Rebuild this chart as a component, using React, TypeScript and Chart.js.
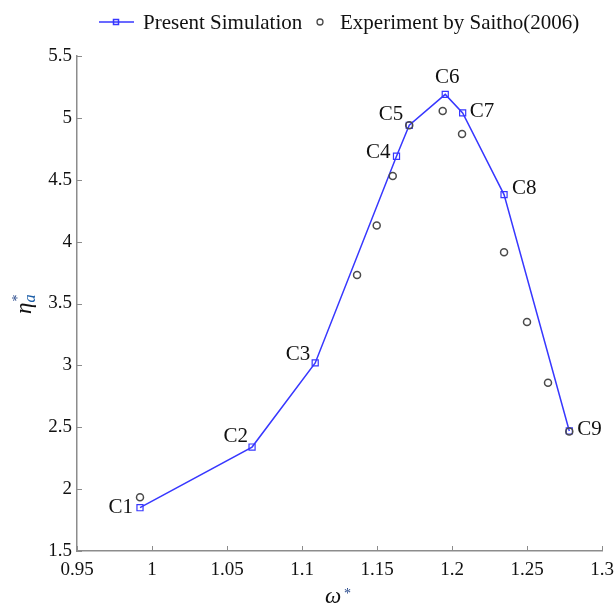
import React, { useEffect, useRef } from "react";
import { Chart, registerables } from "chart.js";

Chart.register(...registerables);

const pointNames = ["C1", "C2", "C3", "C4", "C5", "C6", "C7", "C8", "C9"];
const simOmega = [0.992, 1.0667, 1.1088, 1.163, 1.1715, 1.1955, 1.2071, 1.2347, 1.2782];
const simEta = [1.85, 2.34, 3.02, 4.69, 4.94, 5.19, 5.04, 4.38, 2.47];
const expOmega = [0.992, 1.1367, 1.1498, 1.1605, 1.1715, 1.1938, 1.2067, 1.2347, 1.25, 1.264, 1.2782];
const expEta = [1.935, 3.73, 4.13, 4.53, 4.94, 5.055, 4.87, 3.915, 3.35, 2.86, 2.465];
const xTicks = [0.95, 1, 1.05, 1.1, 1.15, 1.2, 1.25, 1.3];
const yTicks = [1.5, 2, 2.5, 3, 3.5, 4, 4.5, 5, 5.5];
const seriesNames = ["Present Simulation", "Experiment by Saitho(2006)"];

// label placement style: [align, dx, dy]
const labelPlacement: [CanvasTextAlign, number, number][] = [
  ["right", -7, 0],
  ["right", -4, -11],
  ["right", -5, -8],
  ["right", -6, -4],
  ["right", -6, -11],
  ["center", 2, -17],
  ["left", 7, -1],
  ["left", 8, -6],
  ["left", 8, -1],
];

const SERIF = "'Liberation Serif', 'Times New Roman', serif";
const BLUE = "rgb(55,55,255)";
const GREY_MARK = "#4a4a4a";
const AXIS = "#8c8c8c";

const decorPlugin = {
  id: "decor",
  afterDraw(chart: any) {
    const ctx: CanvasRenderingContext2D = chart.ctx;
    const xs = chart.scales.x;
    const ys = chart.scales.y;
    const area = chart.chartArea;
    ctx.save();
    // inward ticks
    ctx.strokeStyle = AXIS;
    ctx.lineWidth = 1;
    ctx.beginPath();
    xTicks.forEach((v) => {
      const px = Math.round(xs.getPixelForValue(v)) + 0.5;
      ctx.moveTo(px, area.bottom);
      ctx.lineTo(px, area.bottom - 5);
    });
    yTicks.forEach((v) => {
      const py = Math.round(ys.getPixelForValue(v)) + 0.5;
      ctx.moveTo(area.left, py);
      ctx.lineTo(area.left + 5, py);
    });
    ctx.stroke();

    // point labels
    const meta = chart.getDatasetMeta(0);
    ctx.fillStyle = "#111";
    ctx.font = `21px ${SERIF}`;
    ctx.textBaseline = "middle";
    meta.data.forEach((pt: any, i: number) => {
      const [align, dx, dy] = labelPlacement[i];
      ctx.textAlign = align;
      ctx.fillText(pointNames[i], pt.x + dx, pt.y + dy);
    });

    // legend
    const ly = 22;
    ctx.strokeStyle = BLUE;
    ctx.lineWidth = 1.5;
    ctx.beginPath();
    ctx.moveTo(99, ly);
    ctx.lineTo(134, ly);
    ctx.stroke();
    ctx.strokeRect(113.5, ly - 2.5, 5, 5);
    ctx.fillStyle = "#111";
    ctx.font = `21px ${SERIF}`;
    ctx.textAlign = "left";
    ctx.textBaseline = "middle";
    ctx.fillText(chart.data.datasets[0].label, 143, ly + 1);
    ctx.strokeStyle = GREY_MARK;
    ctx.lineWidth = 1.3;
    ctx.beginPath();
    ctx.arc(320, ly, 3, 0, Math.PI * 2);
    ctx.stroke();
    ctx.fillText(chart.data.datasets[1].label, 340, ly + 1);

    // x axis title: omega*
    ctx.fillStyle = "#111";
    ctx.textBaseline = "alphabetic";
    ctx.textAlign = "left";
    ctx.font = `italic 23px ${SERIF}`;
    ctx.fillText("ω", 325, 603);
    ctx.font = `14px ${SERIF}`;
    ctx.fillStyle = "#224488";
    ctx.fillText("*", 344, 598);

    // y axis title: eta*_a
    ctx.save();
    ctx.translate(31, 314);
    ctx.rotate(-Math.PI / 2);
    ctx.fillStyle = "#111";
    ctx.font = `italic 23px ${SERIF}`;
    ctx.fillText("η", 0, 0);
    const w = ctx.measureText("η").width;
    ctx.font = `14px ${SERIF}`;
    ctx.fillStyle = "#224488";
    ctx.fillText("*", w + 1, -9);
    ctx.font = `italic 16px ${SERIF}`;
    ctx.fillStyle = "#1d5fa8";
    ctx.fillText("a", w + 0, 4);
    ctx.restore();

    ctx.restore();
  },
};

export default function App() {
  const canvasRef = useRef<HTMLCanvasElement | null>(null);

  useEffect(() => {
    if (!canvasRef.current) return;
    const chart = new Chart(canvasRef.current, {
      type: "scatter",
      data: {
        datasets: [
          {
            label: seriesNames[0],
            data: simOmega.map((x, i) => ({ x, y: simEta[i] })),
            showLine: true,
            borderColor: BLUE,
            borderWidth: 1.5,
            pointStyle: "rect",
            pointRadius: 4.3,
            pointBorderWidth: 1.2,
            pointBorderColor: BLUE,
            pointBackgroundColor: "rgba(255,255,255,0)",
            order: 2,
          },
          {
            label: seriesNames[1],
            data: expOmega.map((x, i) => ({ x, y: expEta[i] })),
            showLine: false,
            pointStyle: "circle",
            pointRadius: 3.5,
            pointBorderWidth: 1.5,
            pointBorderColor: GREY_MARK,
            pointBackgroundColor: "rgba(255,255,255,0)",
            order: 1,
          },
        ],
      },
      options: {
        animation: false,
        responsive: true,
        maintainAspectRatio: false,
        layout: { padding: { top: 56, right: 14, left: 0, bottom: 0 } },
        plugins: { legend: { display: false }, tooltip: { enabled: false } },
        scales: {
          x: {
            type: "linear",
            min: 0.95,
            max: 1.3,
            afterBuildTicks: (scale: any) => {
              scale.ticks = xTicks.map((v) => ({ value: v }));
            },
            afterFit: (scale: any) => {
              scale.height = 52;
              scale.paddingLeft = 0;
              scale.paddingRight = 0;
            },
            ticks: {
              autoSkip: false,
              maxRotation: 0,
              padding: 8,
              color: "#111",
              font: { family: SERIF, size: 19 },
              callback: (v: any) => String(Number(Number(v).toFixed(2))),
            },
            grid: { display: true, drawOnChartArea: false, drawTicks: false },
            border: { display: true, color: AXIS, width: 1.5 },
          },
          y: {
            type: "linear",
            min: 1.5,
            max: 5.5,
            afterBuildTicks: (scale: any) => {
              scale.ticks = yTicks.map((v) => ({ value: v }));
            },
            afterFit: (scale: any) => {
              scale.width = 77;
              scale.paddingTop = 0;
              scale.paddingBottom = 0;
            },
            ticks: {
              autoSkip: false,
              padding: 5,
              color: "#111",
              font: { family: SERIF, size: 19 },
              callback: (v: any) => String(Number(Number(v).toFixed(2))),
            },
            grid: { display: true, drawOnChartArea: false, drawTicks: false },
            border: { display: true, color: AXIS, width: 1.5 },
          },
        },
      },
      plugins: [decorPlugin],
    });
    return () => chart.destroy();
  }, []);

  return (
    <div style={{ position: "absolute", left: 0, top: 0, width: 616, height: 603, background: "#fff" }}>
      <canvas ref={canvasRef} />
    </div>
  );
}
